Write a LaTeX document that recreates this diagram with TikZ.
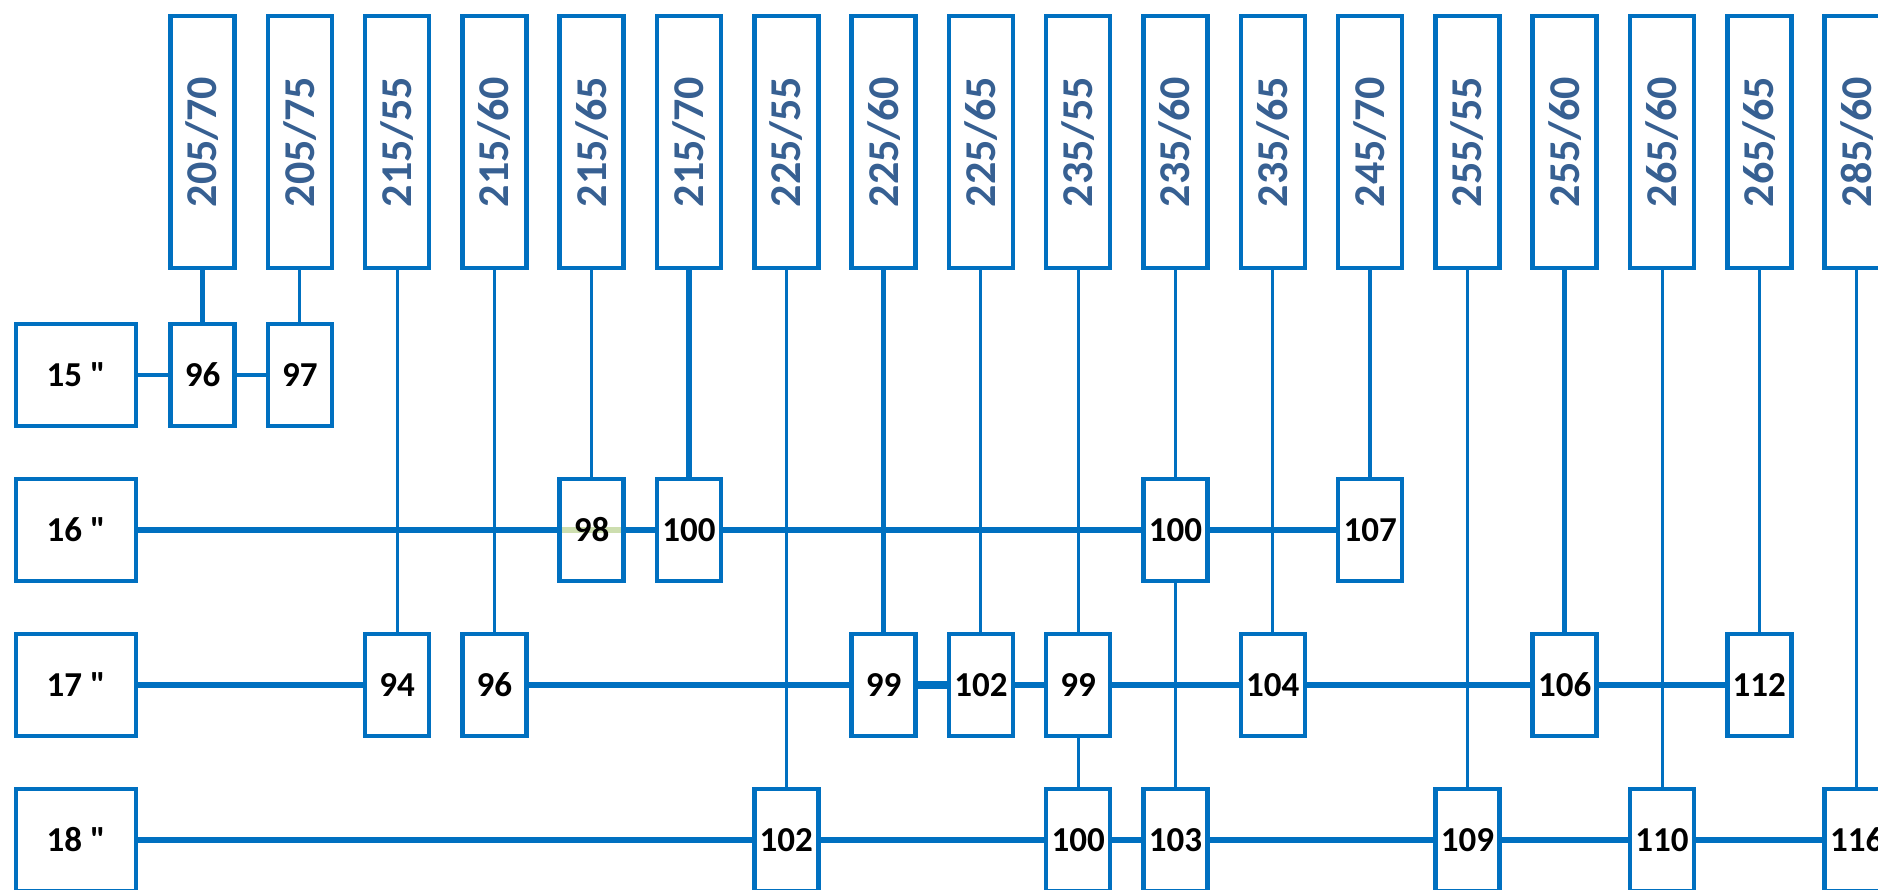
\documentclass[tikz,border=0pt]{standalone}
\usepackage{fontspec}
\setmainfont{Carlito}[Ligatures=TeXOff]
\usepackage{tikz}
\usetikzlibrary{backgrounds}
\definecolor{boxc}{RGB}{0,112,192}
\definecolor{sizec}{RGB}{55,96,146}
\definecolor{hlc}{RGB}{205,222,175}

\begin{document}
\begin{tikzpicture}[x=1pt,y=-1pt,
  every node/.style={draw=boxc,line width=4.5pt,inner sep=0pt,font=\bfseries\fontsize{35}{40}\selectfont},
  sizebox/.style={minimum width=64pt,minimum height=252pt,text=sizec,font=\bfseries\fontsize{44}{50}\selectfont},
  rimbox/.style={minimum width=120pt,minimum height=102pt},
  loadbox/.style={minimum width=64pt,minimum height=102pt},
  link/.style={boxc,line width=3pt},
  bold link/.style={boxc,line width=5.4pt}]
  \useasboundingbox (0,0) rectangle (1878,890);
  % tyre sizes across the top
  \foreach \a/\b [count=\i from 0] in {205/70,205/75,215/55,215/60,215/65,215/70,225/55,225/60,225/65,
      235/55,235/60,235/65,245/70,255/55,255/60,265/60,265/65,285/60}
    \node[sizebox] (S\i) at ({202.5+97.3*\i},142) {\rotatebox{90}{\a/\b}};
  % rim diameters
  \node[rimbox] (R15) at (76,375) {15 "};
  \node[rimbox] (R16) at (76,530) {16 "};
  \node[rimbox] (R17) at (76,685) {17 "};
  \node[rimbox] (R18) at (76,840) {18 "};
  % load indices
  \foreach \c/\v in {0/96,1/97}
    \node[loadbox] (r15c\c) at ({202.5+97.3*\c},375) {\v};
  \foreach \c/\v in {4/98,5/100,10/100,12/107}
    \node[loadbox] (r16c\c) at ({202.5+97.3*\c},530) {\v};
  \foreach \c/\v in {2/94,3/96,7/99,8/102,9/99,11/104,14/106,16/112}
    \node[loadbox] (r17c\c) at ({202.5+97.3*\c},685) {\v};
  \foreach \c/\v in {6/102,9/100,10/103,13/109,15/110,17/116}
    \node[loadbox] (r18c\c) at ({202.5+97.3*\c},840) {\v};
  \begin{scope}[on background layer]
    \draw[hlc,line width=5.5pt] (r16c4.west) -- (r16c4.east);
  \end{scope}
  % rows
  \draw[link,line width=4pt] (R15) -- (r15c0) -- (r15c1);
  \draw[link,line width=5.5pt] (R16) -- (r16c4) (r16c4) -- (r16c5) -- (r16c10) -- (r16c12);
  \draw[link,line width=5.5pt] (R17) -- (r17c2) (r17c3) -- (r17c7)
    (r17c8) -- (r17c9) -- (r17c11) -- (r17c14) -- (r17c16);
  \draw[link,line width=8pt] (r17c7) -- (r17c8);
  \draw[link,line width=6pt] (R18) -- (r18c6) -- (r18c9) -- (r18c10) -- (r18c13) -- (r18c15) -- (r18c17);
  % columns
  \draw[bold link] (S0) -- (r15c0);
  \draw[link] (S1) -- (r15c1);
  \draw[link] (S2) -- (r17c2);
  \draw[link,line width=3.5pt] (S3) -- (r17c3);
  \draw[link,line width=3.5pt] (S4) -- (r16c4);
  \draw[bold link] (S5) -- (r16c5);
  \draw[link] (S6) -- (r18c6);
  \draw[bold link] (S7) -- (r17c7);
  \draw[link] (S8) -- (r17c8);
  \draw[link] (S9) -- (r17c9) -- (r18c9);
  \draw[link] (S10) -- (r16c10) -- (r18c10);
  \draw[link] (S11) -- (r17c11);
  \draw[bold link,line width=4.4pt] (S12) -- (r16c12);
  \draw[link] (S13) -- (r18c13);
  \draw[bold link] (S14) -- (r17c14);
  \draw[link] (S15) -- (r18c15);
  \draw[link,line width=3.6pt] (S16) -- (r17c16);
  \draw[link] (S17) -- (r18c17);
\end{tikzpicture}
\end{document}
